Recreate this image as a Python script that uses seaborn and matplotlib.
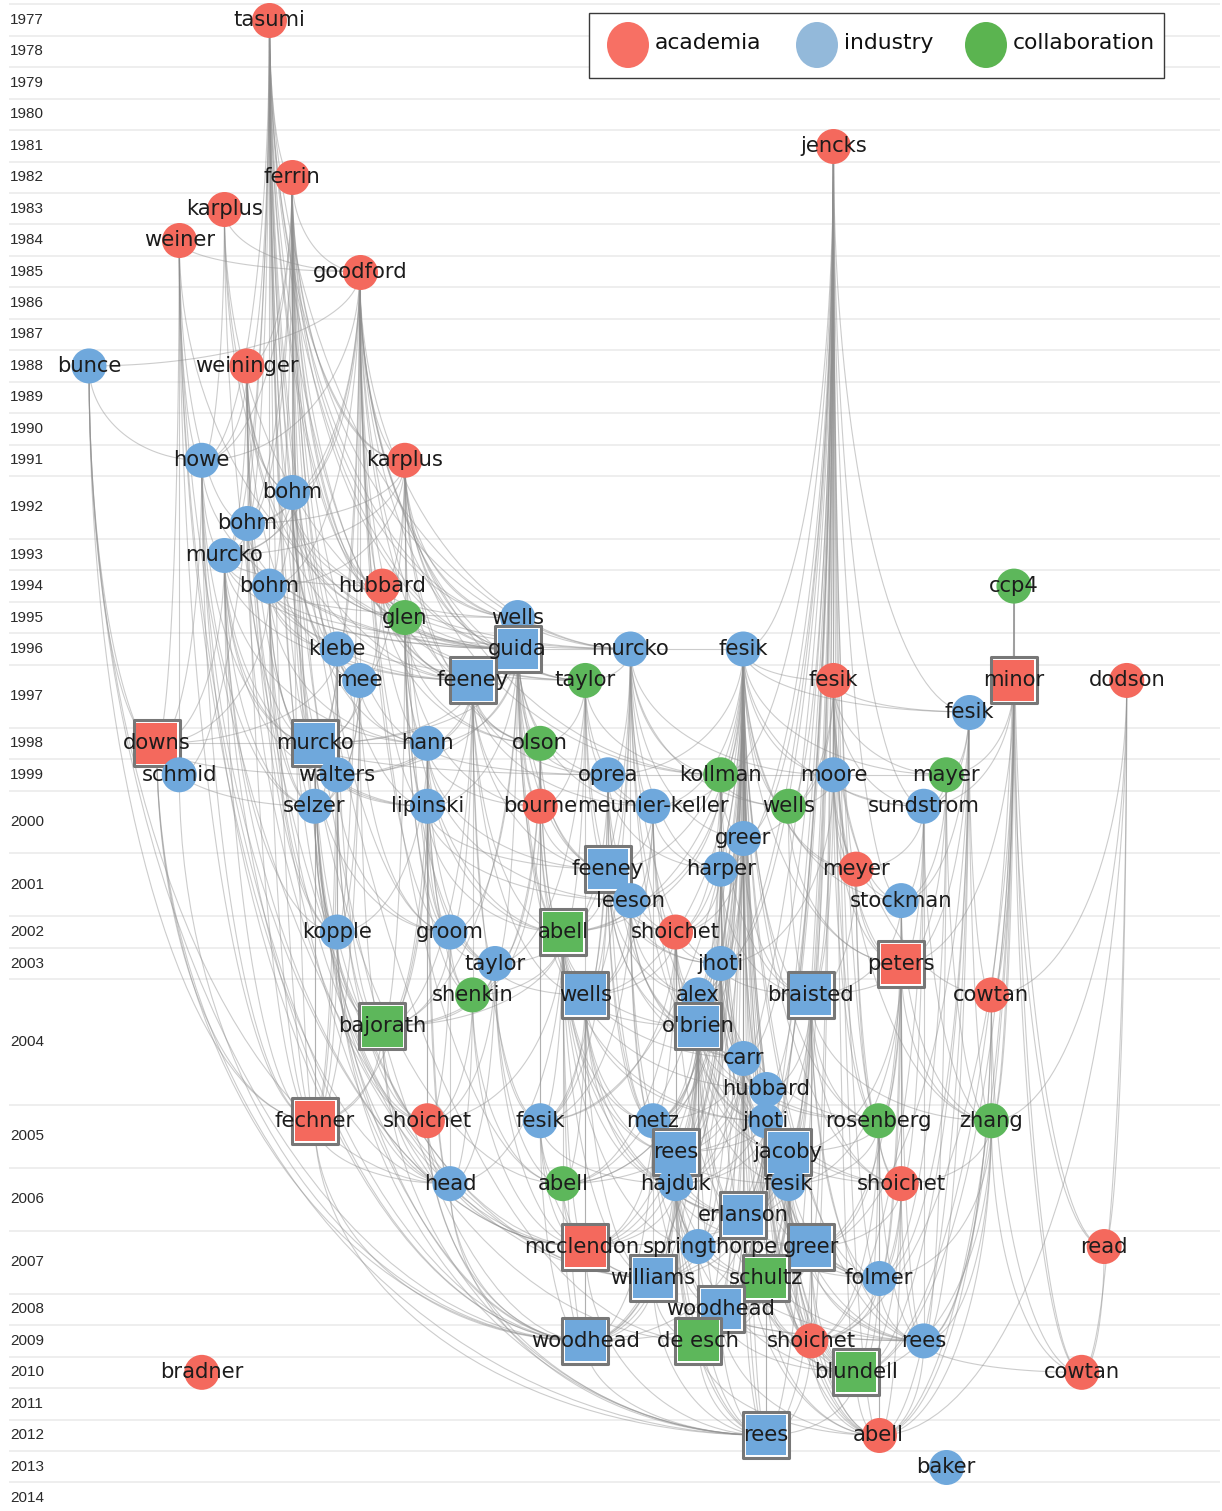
import numpy as np
import pandas as pd
import seaborn as sns
import matplotlib.pyplot as plt
from matplotlib.collections import LineCollection
from matplotlib.patches import Rectangle, Ellipse

# years shown on the left and how many node rows each year takes
years = list(range(1977, 2015))
year_rows = [1] * 15 + [2, 1, 1, 1, 1, 2, 1, 1, 2, 2, 1, 1, 4, 2, 2, 2] + [1] * 7

# nodes (papers): id, label, year, sub-row inside the year, layout column, sector, shape
node_id = ['tasumi77', 'jencks81', 'ferrin82', 'karplus83', 'weiner84', 'goodford85', 'bunce88', 'weininger88', 'howe91', 'karplus91',
           'bohm92a', 'bohm92b', 'murcko93', 'bohm94', 'hubbard94', 'ccp4', 'glen95', 'wells95', 'klebe96', 'guida96',
           'murcko96', 'fesik96', 'mee97', 'feeney97', 'taylor97', 'fesik97a', 'minor97', 'dodson97', 'fesik97b', 'downs98',
           'murcko98', 'hann98', 'olson98', 'schmid99', 'walters99', 'oprea99', 'kollman99', 'moore99', 'mayer99', 'selzer00',
           'lipinski00', 'bourne00', 'meunier00', 'wells00', 'sundstrom00', 'greer00', 'feeney01', 'harper01', 'meyer01', 'leeson01',
           'stockman01', 'kopple02', 'groom02', 'abell02', 'shoichet02', 'taylor03', 'jhoti03', 'peters03', 'shenkin04', 'wells04',
           'alex04', 'braisted04', 'cowtan04', 'bajorath04', 'obrien04', 'carr04', 'hubbard04', 'fechner05', 'shoichet05', 'fesik05',
           'metz05', 'jhoti05', 'rosenberg05', 'zhang05', 'rees05', 'jacoby05', 'head06', 'abell06', 'hajduk06', 'fesik06',
           'shoichet06', 'erlanson06', 'mcclendon07', 'springthorpe07', 'greer07', 'read07', 'williams07', 'schultz07', 'folmer07', 'woodhead08',
           'woodhead09', 'deesch09', 'shoichet09', 'rees09', 'bradner10', 'blundell10', 'cowtan10', 'rees12', 'abell12', 'baker13']
node_label = ['tasumi', 'jencks', 'ferrin', 'karplus', 'weiner', 'goodford', 'bunce', 'weininger', 'howe', 'karplus',
              'bohm', 'bohm', 'murcko', 'bohm', 'hubbard', 'ccp4', 'glen', 'wells', 'klebe', 'guida',
              'murcko', 'fesik', 'mee', 'feeney', 'taylor', 'fesik', 'minor', 'dodson', 'fesik', 'downs',
              'murcko', 'hann', 'olson', 'schmid', 'walters', 'oprea', 'kollman', 'moore', 'mayer', 'selzer',
              'lipinski', 'bourne', 'meunier-keller', 'wells', 'sundstrom', 'greer', 'feeney', 'harper', 'meyer', 'leeson',
              'stockman', 'kopple', 'groom', 'abell', 'shoichet', 'taylor', 'jhoti', 'peters', 'shenkin', 'wells',
              'alex', 'braisted', 'cowtan', 'bajorath', "o'brien", 'carr', 'hubbard', 'fechner', 'shoichet', 'fesik',
              'metz', 'jhoti', 'rosenberg', 'zhang', 'rees', 'jacoby', 'head', 'abell', 'hajduk', 'fesik',
              'shoichet', 'erlanson', 'mcclendon', 'springthorpe', 'greer', 'read', 'williams', 'schultz', 'folmer', 'woodhead',
              'woodhead', 'de esch', 'shoichet', 'rees', 'bradner', 'blundell', 'cowtan', 'rees', 'abell', 'baker']
node_year = [1977, 1981, 1982, 1983, 1984, 1985, 1988, 1988, 1991, 1991,
             1992, 1992, 1993, 1994, 1994, 1994, 1995, 1995, 1996, 1996,
             1996, 1996, 1997, 1997, 1997, 1997, 1997, 1997, 1997, 1998,
             1998, 1998, 1998, 1999, 1999, 1999, 1999, 1999, 1999, 2000,
             2000, 2000, 2000, 2000, 2000, 2000, 2001, 2001, 2001, 2001,
             2001, 2002, 2002, 2002, 2002, 2003, 2003, 2003, 2004, 2004,
             2004, 2004, 2004, 2004, 2004, 2004, 2004, 2005, 2005, 2005,
             2005, 2005, 2005, 2005, 2005, 2005, 2006, 2006, 2006, 2006,
             2006, 2006, 2007, 2007, 2007, 2007, 2007, 2007, 2007, 2008,
             2009, 2009, 2009, 2009, 2010, 2010, 2010, 2012, 2012, 2013]
node_sub = [0, 0, 0, 0, 0, 0, 0, 0, 0, 0,
            0, 1, 0, 0, 0, 0, 0, 0, 0, 0,
            0, 0, 0, 0, 0, 0, 0, 0, 1, 0,
            0, 0, 0, 0, 0, 0, 0, 0, 0, 0,
            0, 0, 0, 0, 0, 1, 0, 0, 0, 1,
            1, 0, 0, 0, 0, 0, 0, 0, 0, 0,
            0, 0, 0, 1, 1, 2, 3, 0, 0, 0,
            0, 0, 0, 0, 1, 1, 0, 0, 0, 0,
            0, 1, 0, 0, 0, 0, 1, 1, 1, 0,
            0, 0, 0, 0, 0, 0, 0, 0, 0, 0]
node_col = [8, 33, 9, 6, 4, 12, 0, 7, 5, 14,
            9, 7, 6, 8, 13, 41, 14, 19, 11, 19,
            24, 29, 12, 17, 22, 33, 41, 46, 39, 3,
            10, 15, 20, 4, 11, 23, 28, 33, 38, 10,
            15, 20, 25, 31, 37, 29, 23, 28, 34, 24,
            36, 11, 16, 21, 26, 18, 28, 36, 17, 22,
            27, 32, 40, 13, 27, 29, 30, 10, 15, 20,
            25, 30, 35, 40, 26, 31, 16, 21, 26, 31,
            36, 29, 22, 27, 32, 45, 25, 30, 35, 28,
            22, 27, 32, 37, 5, 34, 44, 30, 35, 38]
node_kind = list('aaaaaaiaia'
                 'iiiiacciii'
                 'iiiicaaaia'
                 'iiciiicici'
                 'iaiciiiiai'
                 'iiicaiiaci'
                 'iiaciiiaai'
                 'iicciiicii'
                 'aiaiiaicii'
                 'icaiacaiai')
node_form = list('oooooooooo'
                 'ooooooooos'
                 'ooosoosoos'
                 'sooooooooo'
                 'oooooosooo'
                 'ooosooosos'
                 'osossoosoo'
                 'oooossoooo'
                 'ossosossos'
                 'ssooosos' 'oo')

# citations: paper -> earlier papers it cites
cites = {
    'ferrin82': ['tasumi77'],
    'goodford85': ['weiner84', 'karplus83', 'ferrin82'],
    'bunce88': ['goodford85'],
    'weininger88': ['tasumi77', 'ferrin82'],
    'howe91': ['bunce88', 'weiner84', 'karplus83', 'weininger88', 'goodford85', 'tasumi77', 'ferrin82'],
    'karplus91': ['tasumi77', 'ferrin82', 'goodford85'],
    'bohm92a': ['tasumi77', 'ferrin82', 'goodford85', 'karplus83', 'weininger88'],
    'bohm92b': ['bohm92a', 'tasumi77', 'ferrin82', 'goodford85', 'karplus91', 'weiner84'],
    'murcko93': ['tasumi77', 'ferrin82', 'goodford85', 'weininger88', 'karplus91', 'bohm92a', 'howe91'],
    'bohm94': ['bohm92a', 'bohm92b', 'murcko93', 'tasumi77', 'ferrin82', 'goodford85', 'karplus91'],
    'hubbard94': ['goodford85', 'tasumi77', 'ferrin82', 'karplus91', 'bohm92a', 'murcko93'],
    'glen95': ['goodford85', 'tasumi77', 'ferrin82', 'karplus91', 'bohm92a', 'hubbard94', 'weininger88'],
    'wells95': ['tasumi77', 'ferrin82', 'goodford85', 'karplus91', 'bohm94', 'hubbard94'],
    'klebe96': ['goodford85', 'ferrin82', 'tasumi77', 'bohm92a', 'bohm94', 'weininger88'],
    'guida96': ['tasumi77', 'ferrin82', 'goodford85', 'karplus91', 'bohm92a', 'bohm92b', 'murcko93', 'bohm94',
                'hubbard94', 'glen95', 'wells95', 'howe91', 'weiner84', 'karplus83'],
    'murcko96': ['bohm94', 'hubbard94', 'guida96', 'goodford85', 'tasumi77', 'ferrin82', 'bohm92a'],
    'fesik96': ['jencks81', 'murcko96'],
    'mee97': ['goodford85', 'ferrin82', 'tasumi77', 'bohm92a', 'klebe96', 'karplus91'],
    'feeney97': ['tasumi77', 'ferrin82', 'goodford85', 'karplus91', 'bohm92b', 'murcko93', 'bohm94', 'hubbard94',
                 'glen95', 'guida96', 'wells95', 'weininger88', 'karplus83'],
    'taylor97': ['goodford85', 'karplus91', 'bohm94', 'hubbard94', 'murcko96', 'guida96', 'glen95'],
    'fesik97a': ['jencks81', 'fesik96'],
    'minor97': ['ccp4'],
    'fesik97b': ['fesik96', 'fesik97a', 'jencks81'],
    'downs98': ['bunce88', 'bohm94', 'klebe96', 'howe91', 'weiner84', 'murcko93'],
    'murcko98': ['tasumi77', 'ferrin82', 'goodford85', 'weininger88', 'howe91', 'bohm92a', 'bohm92b', 'murcko93',
                 'bohm94', 'klebe96', 'mee97', 'hubbard94', 'feeney97', 'guida96', 'downs98'],
    'hann98': ['goodford85', 'ferrin82', 'karplus91', 'bohm92a', 'murcko93', 'bohm94', 'glen95', 'guida96',
               'feeney97', 'mee97', 'murcko98'],
    'olson98': ['goodford85', 'karplus91', 'hubbard94', 'glen95', 'guida96', 'feeney97', 'taylor97', 'wells95'],
    'schmid99': ['bunce88', 'weiner84', 'downs98', 'tasumi77'],
    'walters99': ['tasumi77', 'ferrin82', 'murcko93', 'bohm94', 'klebe96', 'mee97', 'murcko98', 'guida96',
                  'feeney97', 'hann98', 'downs98'],
    'oprea99': ['murcko96', 'guida96', 'feeney97', 'taylor97', 'olson98', 'hann98', 'fesik96', 'murcko98'],
    'kollman99': ['fesik96', 'jencks81', 'murcko96', 'taylor97', 'oprea99', 'karplus91', 'goodford85'],
    'moore99': ['jencks81', 'fesik96', 'fesik97a', 'kollman99', 'murcko96'],
    'mayer99': ['fesik96', 'fesik97a', 'fesik97b', 'minor97', 'moore99'],
    'selzer00': ['tasumi77', 'ferrin82', 'weininger88', 'howe91', 'murcko93', 'bohm94', 'klebe96', 'mee97',
                 'murcko98', 'walters99', 'downs98'],
    'lipinski00': ['ferrin82', 'goodford85', 'murcko93', 'hann98', 'murcko98', 'feeney97', 'guida96', 'walters99', 'glen95'],
    'bourne00': ['guida96', 'feeney97', 'taylor97', 'olson98', 'hann98', 'wells95', 'glen95'],
    'meunier00': ['fesik96', 'murcko96', 'oprea99', 'kollman99', 'taylor97', 'guida96', 'feeney97'],
    'wells00': ['fesik96', 'jencks81', 'fesik97a', 'kollman99', 'moore99', 'murcko96'],
    'sundstrom00': ['fesik96', 'fesik97a', 'fesik97b', 'moore99', 'mayer99', 'minor97', 'jencks81'],
    'greer00': ['fesik96', 'jencks81', 'kollman99', 'murcko96', 'fesik97a'],
    'feeney01': ['feeney97', 'guida96', 'taylor97', 'olson98', 'oprea99', 'meunier00', 'hann98', 'lipinski00',
                 'murcko96', 'bourne00', 'wells95', 'fesik96'],
    'harper01': ['fesik96', 'kollman99', 'greer00', 'oprea99', 'meunier00', 'murcko96', 'jencks81'],
    'meyer01': ['fesik96', 'fesik97a', 'moore99', 'wells00', 'jencks81', 'sundstrom00'],
    'leeson01': ['feeney01', 'oprea99', 'lipinski00', 'murcko96', 'meunier00', 'fesik96', 'taylor97', 'hann98'],
    'stockman01': ['fesik96', 'fesik97a', 'fesik97b', 'sundstrom00', 'mayer99', 'moore99', 'jencks81'],
    'kopple02': ['tasumi77', 'ferrin82', 'goodford85', 'weininger88', 'murcko93', 'bohm94', 'klebe96', 'mee97',
                 'murcko98', 'walters99', 'selzer00', 'hann98'],
    'groom02': ['goodford85', 'ferrin82', 'karplus91', 'glen95', 'guida96', 'feeney97', 'hann98', 'lipinski00',
                'murcko98', 'walters99', 'mee97'],
    'abell02': ['guida96', 'feeney97', 'taylor97', 'olson98', 'oprea99', 'fesik96', 'murcko96', 'kollman99',
                'hann98', 'bourne00', 'feeney01', 'wells95', 'glen95', 'lipinski00', 'leeson01'],
    'shoichet02': ['fesik96', 'oprea99', 'meunier00', 'feeney01', 'leeson01', 'kollman99', 'murcko96', 'harper01', 'greer00'],
    'taylor03': ['groom02', 'glen95', 'guida96', 'feeney97', 'hann98', 'olson98', 'lipinski00', 'taylor97', 'abell02'],
    'jhoti03': ['fesik96', 'jencks81', 'greer00', 'harper01', 'kollman99', 'feeney01', 'shoichet02', 'leeson01',
                'murcko96', 'moore99'],
    'peters03': ['fesik96', 'fesik97a', 'fesik97b', 'sundstrom00', 'stockman01', 'meyer01', 'mayer99', 'moore99',
                 'wells00', 'minor97'],
    'shenkin04': ['glen95', 'groom02', 'taylor03', 'feeney97', 'olson98', 'hann98', 'bourne00', 'abell02'],
    'wells04': ['fesik96', 'guida96', 'feeney97', 'taylor97', 'olson98', 'oprea99', 'feeney01', 'abell02',
                'shoichet02', 'meunier00', 'leeson01', 'taylor03', 'bourne00', 'murcko96'],
    'alex04': ['fesik96', 'jencks81', 'jhoti03', 'harper01', 'greer00', 'kollman99', 'feeney01', 'shoichet02',
               'leeson01', 'meunier00'],
    'braisted04': ['fesik96', 'jencks81', 'fesik97a', 'moore99', 'wells00', 'greer00', 'harper01', 'jhoti03',
                   'meyer01', 'kollman99', 'peters03', 'stockman01'],
    'cowtan04': ['dodson97', 'minor97', 'ccp4', 'fesik97b', 'fesik97a'],
    'bajorath04': ['murcko98', 'hann98', 'lipinski00', 'walters99', 'selzer00', 'kopple02', 'groom02', 'taylor03',
                   'shenkin04', 'abell02', 'feeney97', 'guida96', 'glen95', 'mee97', 'klebe96'],
    'obrien04': ['fesik96', 'jhoti03', 'alex04', 'feeney01', 'leeson01', 'shoichet02', 'abell02', 'oprea99',
                 'meunier00', 'harper01', 'kollman99', 'greer00', 'wells04', 'murcko96'],
    'carr04': ['fesik96', 'jencks81', 'jhoti03', 'alex04', 'obrien04', 'harper01', 'greer00', 'kollman99',
               'abell02', 'shoichet02', 'leeson01', 'feeney01'],
    'hubbard04': ['fesik96', 'jencks81', 'jhoti03', 'carr04', 'alex04', 'obrien04', 'greer00', 'harper01',
                  'braisted04', 'abell02'],
    'fechner05': ['tasumi77', 'ferrin82', 'weininger88', 'weiner84', 'bunce88', 'howe91', 'murcko93', 'bohm94',
                  'klebe96', 'murcko98', 'walters99', 'selzer00', 'kopple02', 'bajorath04', 'downs98', 'mee97', 'lipinski00'],
    'shoichet05': ['bajorath04', 'groom02', 'taylor03', 'kopple02', 'hann98', 'lipinski00', 'murcko98',
                   'shenkin04', 'abell02', 'walters99'],
    'fesik05': ['fesik96', 'abell02', 'feeney01', 'oprea99', 'leeson01', 'wells04', 'shoichet02', 'taylor03',
                'olson98', 'bourne00', 'feeney97'],
    'metz05': ['fesik96', 'abell02', 'obrien04', 'jhoti03', 'alex04', 'carr04', 'feeney01', 'leeson01',
               'shoichet02', 'oprea99', 'meunier00', 'harper01', 'wells04'],
    'jhoti05': ['fesik96', 'jencks81', 'jhoti03', 'carr04', 'hubbard04', 'alex04', 'obrien04', 'braisted04',
                'greer00', 'harper01', 'abell02', 'shoichet02', 'kollman99', 'wells04'],
    'rosenberg05': ['fesik96', 'fesik97a', 'braisted04', 'jhoti03', 'peters03', 'stockman01', 'meyer01',
                    'hubbard04', 'carr04', 'jencks81', 'moore99'],
    'zhang05': ['fesik97b', 'minor97', 'peters03', 'stockman01', 'sundstrom00', 'mayer99', 'dodson97',
                'cowtan04', 'braisted04', 'ccp4', 'fesik97a'],
    'rees05': ['fesik96', 'abell02', 'obrien04', 'jhoti03', 'carr04', 'hubbard04', 'alex04', 'metz05', 'jhoti05',
               'shoichet02', 'feeney01', 'leeson01', 'wells04', 'harper01', 'greer00'],
    'jacoby05': ['fesik96', 'jencks81', 'jhoti03', 'carr04', 'hubbard04', 'braisted04', 'jhoti05', 'obrien04',
                 'alex04', 'peters03', 'rosenberg05'],
    'head06': ['bajorath04', 'kopple02', 'groom02', 'taylor03', 'shenkin04', 'hann98', 'lipinski00', 'murcko98',
               'fechner05', 'shoichet05', 'abell02', 'weiner84', 'bunce88'],
    'abell06': ['abell02', 'fesik96', 'wells04', 'obrien04', 'jhoti03', 'shoichet02', 'fesik05', 'taylor03',
                'shenkin04', 'carr04', 'bohm92a', 'goodford85'],
    'hajduk06': ['fesik96', 'jencks81', 'abell02', 'obrien04', 'carr04', 'hubbard04', 'metz05', 'jhoti05',
                 'rees05', 'jhoti03', 'alex04', 'shoichet02', 'wells04', 'fesik05', 'leeson01'],
    'fesik06': ['fesik96', 'jencks81', 'braisted04', 'hubbard04', 'jhoti05', 'jacoby05', 'carr04', 'jhoti03',
                'obrien04', 'rees05', 'greer00', 'rosenberg05', 'peters03'],
    'shoichet06': ['fesik96', 'peters03', 'braisted04', 'rosenberg05', 'zhang05', 'stockman01', 'meyer01',
                   'jacoby05', 'jhoti03', 'hubbard04', 'sundstrom00'],
    'erlanson06': ['fesik96', 'jencks81', 'abell02', 'obrien04', 'carr04', 'hubbard04', 'jhoti05', 'rees05',
                   'jacoby05', 'hajduk06', 'fesik06', 'braisted04', 'jhoti03', 'alex04', 'metz05', 'wells04', 'shoichet02'],
    'mcclendon07': ['abell02', 'fesik96', 'wells04', 'obrien04', 'fesik05', 'abell06', 'rees05', 'hajduk06',
                    'metz05', 'erlanson06', 'taylor03', 'shoichet05', 'shenkin04', 'howe91', 'murcko93',
                    'bohm92b', 'karplus83'],
    'springthorpe07': ['fesik96', 'jhoti03', 'carr04', 'hubbard04', 'jhoti05', 'rees05', 'hajduk06', 'erlanson06',
                       'metz05', 'obrien04', 'abell02', 'alex04'],
    'greer07': ['fesik96', 'jencks81', 'braisted04', 'jacoby05', 'fesik06', 'erlanson06', 'jhoti05', 'hubbard04',
                'rosenberg05', 'shoichet06', 'peters03', 'carr04', 'hajduk06', 'fesik97b'],
    'read07': ['dodson97', 'minor97', 'ccp4'],
    'williams07': ['fesik96', 'abell02', 'obrien04', 'carr04', 'rees05', 'hajduk06', 'erlanson06', 'metz05',
                   'jhoti05', 'fesik05', 'abell06', 'springthorpe07', 'mcclendon07', 'wells04', 'weiner84',
                   'murcko98', 'selzer00'],
    'schultz07': ['fesik96', 'jencks81', 'hubbard04', 'jhoti05', 'rees05', 'jacoby05', 'hajduk06', 'fesik06',
                  'erlanson06', 'carr04', 'obrien04', 'greer07', 'springthorpe07'],
    'folmer07': ['fesik96', 'jencks81', 'braisted04', 'jacoby05', 'fesik06', 'shoichet06', 'rosenberg05',
                 'zhang05', 'erlanson06', 'greer07', 'peters03', 'hubbard04', 'jhoti05', 'fesik97b', 'mayer99',
                 'stockman01'],
    'woodhead08': ['fesik96', 'jencks81', 'carr04', 'hubbard04', 'jhoti05', 'rees05', 'hajduk06', 'erlanson06',
                   'springthorpe07', 'williams07', 'schultz07', 'greer07', 'jacoby05', 'obrien04', 'metz05'],
    'woodhead09': ['abell02', 'obrien04', 'fesik05', 'abell06', 'rees05', 'hajduk06', 'erlanson06', 'mcclendon07',
                   'williams07', 'woodhead08', 'metz05', 'wells04', 'fesik96', 'shoichet05', 'head06', 'bunce88',
                   'weiner84', 'howe91', 'murcko93', 'downs98', 'schmid99', 'tasumi77', 'weininger88', 'murcko98',
                   'fechner05'],
    'deesch09': ['fesik96', 'jencks81', 'carr04', 'hubbard04', 'jhoti05', 'rees05', 'hajduk06', 'erlanson06',
                 'springthorpe07', 'williams07', 'schultz07', 'woodhead08', 'fesik06', 'jacoby05', 'obrien04',
                 'bohm94', 'tasumi77'],
    'shoichet09': ['fesik96', 'jencks81', 'braisted04', 'jacoby05', 'fesik06', 'erlanson06', 'greer07',
                   'schultz07', 'folmer07', 'shoichet06', 'rosenberg05', 'hubbard04', 'jhoti05', 'woodhead08',
                   'minor97', 'sundstrom00'],
    'rees09': ['fesik96', 'zhang05', 'shoichet06', 'folmer07', 'greer07', 'rosenberg05', 'jacoby05', 'fesik06',
               'erlanson06', 'woodhead08', 'braisted04', 'peters03', 'williams07', 'hajduk06', 'cowtan04',
               'minor97', 'fesik97b', 'mayer99', 'sundstrom00'],
    'blundell10': ['fesik96', 'jencks81', 'jhoti05', 'hubbard04', 'erlanson06', 'greer07', 'schultz07',
                   'woodhead08', 'rees05', 'jacoby05', 'fesik06', 'shoichet06', 'folmer07', 'carr04', 'zhang05',
                   'rosenberg05', 'minor97', 'ccp4', 'fesik97b'],
    'cowtan10': ['dodson97', 'minor97', 'read07', 'cowtan04', 'rees09', 'zhang05', 'ccp4'],
    'rees12': ['fesik96', 'jencks81', 'woodhead09', 'deesch09', 'woodhead08', 'erlanson06', 'schultz07',
               'williams07', 'hajduk06', 'rees05', 'jhoti05', 'springthorpe07', 'shoichet09', 'mcclendon07',
               'blundell10', 'greer07', 'carr04', 'fechner05', 'kopple02', 'downs98', 'bajorath04',
               'shoichet05', 'head06'],
    'abell12': ['fesik96', 'jencks81', 'blundell10', 'rees09', 'shoichet09', 'deesch09', 'woodhead08', 'folmer07',
                'greer07', 'schultz07', 'erlanson06', 'zhang05', 'jacoby05', 'fesik06', 'rosenberg05',
                'shoichet06', 'hubbard04', 'minor97', 'dodson97', 'cowtan04', 'fesik97b'],
}

kind_names = {'a': 'academia', 'i': 'industry', 'c': 'collaboration'}
palette = {'academia': '#F4695D', 'industry': '#6FA8DC', 'collaboration': '#5DB75B'}
legend_colors = {'academia': '#F77064', 'industry': '#93B9DA', 'collaboration': '#5BB450'}

# layout: one row per line of the grid, one column step per layout unit
ROW0, ROW_H = 20, 31.45
COL0, COL_W = 89, 22.56

year_start = dict(zip(years, np.concatenate([[0], np.cumsum(year_rows)[:-1]])))
nodes = pd.DataFrame({'id': node_id, 'label': node_label, 'year': node_year, 'sub': node_sub,
                      'col': node_col, 'kind': [kind_names[k] for k in node_kind], 'form': node_form})
nodes['row'] = [year_start[y] + s for y, s in zip(nodes['year'], nodes['sub'])]
nodes['x'] = COL0 + COL_W * nodes['col']
nodes['y'] = ROW0 + ROW_H * nodes['row']
pos = nodes.set_index('id')[['x', 'y']]

sns.set_theme(style='white')
plt.rcParams['font.family'] = ['DejaVu Sans']

fig = plt.figure(figsize=(12.22, 15.11), dpi=100)
ax = fig.add_axes([0, 0, 1, 1])

# faint separators between years + year labels
bounds = [ROW0 + ROW_H * (year_start[y] - 0.5) for y in years]
ax.hlines(bounds, 9, 1220, color='#ebebeb', lw=1.2, zorder=0)
for y, n in zip(years, year_rows):
    yc = ROW0 + ROW_H * (year_start[y] + (n - 1) / 2)
    ax.text(10, yc, str(y), fontsize=11, color='#2a2a2a', va='center', ha='left', family='Liberation Sans')


def quarter_arc(p, q, n=40):
    # leaves the upper node vertically, reaches the lower one horizontally
    (x1, y1), (x2, y2) = sorted([p, q], key=lambda t: t[1])
    th = np.linspace(0, np.pi / 2, n)
    return np.column_stack([x2 + (x1 - x2) * np.cos(th), y1 + (y2 - y1) * np.sin(th)])


segs = []
for src, targets in cites.items():
    for dst in targets:
        segs.append(quarter_arc(tuple(pos.loc[src]), tuple(pos.loc[dst])))
ax.add_collection(LineCollection(segs, colors='#8f8f8f', linewidths=0.8, alpha=0.45, zorder=1))

# nodes, drawn row by row so later rows sit on top
for r, grp in nodes.groupby('row'):
    sq = grp[grp['form'] == 's']
    ci = grp[grp['form'] == 'o']
    if len(sq):
        sns.scatterplot(data=sq, x='x', y='y', marker='s', s=1097, color='white',
                        edgecolor='#777777', linewidth=2.2, ax=ax, legend=False, zorder=3)
        sns.scatterplot(data=sq, x='x', y='y', hue='kind', palette=palette, marker='s', s=871,
                        linewidth=0, ax=ax, legend=False, zorder=3)
    if len(ci):
        sns.scatterplot(data=ci, x='x', y='y', hue='kind', palette=palette, marker='o', s=635,
                        linewidth=0, ax=ax, legend=False, zorder=3)

# labels (springthorpe sits a little right of its node in the original)
label_dx = {'springthorpe07': 12, 'mcclendon07': -4}
for _, n in nodes.iterrows():
    ax.text(n['x'] + label_dx.get(n['id'], 0), n['y'], n['label'], ha='center', va='center',
            fontsize=15.2, color='#1c1c1c', zorder=5)

# legend box
ax.add_patch(Rectangle((589, 13), 575, 65, facecolor='white', edgecolor='#3a3a3a', lw=1, zorder=6))
for (name, col), cx in zip(legend_colors.items(), [628, 817, 986]):
    ax.add_patch(Ellipse((cx, 45), 42, 46, facecolor=col, edgecolor='none', zorder=7))
    ax.text(cx + 27, 43, name, fontsize=15.7, color='#111111', va='center', ha='left', zorder=7)

ax.set_xlim(0, 1222)
ax.set_ylim(1511, 0)
ax.axis('off')
fig.savefig('out.png', dpi=100, facecolor='white')
